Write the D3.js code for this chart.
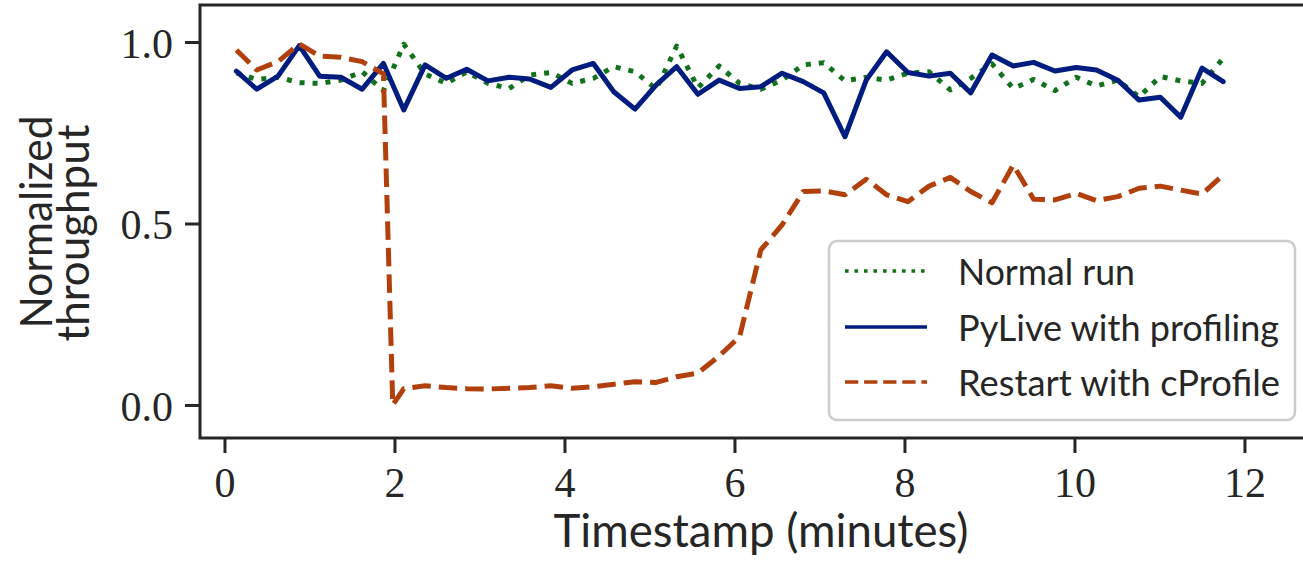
<!DOCTYPE html>
<html>
<head>
<meta charset="utf-8">
<script src="https://cdn.jsdelivr.net/npm/d3@7"></script>
<style>
  body { margin: 0; background: #fff; }
  svg { display: block; }
</style>
</head>
<body>
<svg></svg>
<script>
// sample times (minutes), one every ~15 s
let timestamps = [0.14, 0.38, 0.63, 0.88, 1.12, 1.37, 1.62, 1.87, 2.11, 2.36, 2.61, 2.85,
                  3.10, 3.35, 3.59, 3.84, 4.09, 4.34, 4.58, 4.83, 5.08, 5.32, 5.57, 5.82,
                  6.06, 6.31, 6.56, 6.81, 7.05, 7.30, 7.55, 7.79, 8.04, 8.29, 8.54, 8.78,
                  9.03, 9.28, 9.52, 9.77, 10.02, 10.26, 10.51, 10.76, 11.01, 11.25, 11.50, 11.75];

let normalRun = [0.915, 0.897, 0.903, 0.888, 0.886, 0.895, 0.918, 0.866, 0.994, 0.912, 0.886, 0.918,
                 0.886, 0.872, 0.909, 0.916, 0.886, 0.900, 0.932, 0.918, 0.870, 0.989, 0.874, 0.934,
                 0.886, 0.870, 0.895, 0.937, 0.943, 0.893, 0.903, 0.895, 0.914, 0.918, 0.868, 0.900,
                 0.940, 0.872, 0.897, 0.866, 0.903, 0.879, 0.895, 0.849, 0.905, 0.893, 0.886, 0.955];

let pyliveRun = [0.920, 0.870, 0.906, 0.990, 0.906, 0.903, 0.870, 0.941, 0.813, 0.937, 0.900, 0.925,
                 0.893, 0.903, 0.898, 0.875, 0.923, 0.941, 0.863, 0.815, 0.882, 0.932, 0.856, 0.895,
                 0.872, 0.877, 0.914, 0.891, 0.860, 0.739, 0.895, 0.973, 0.916, 0.906, 0.914, 0.860,
                 0.964, 0.934, 0.944, 0.920, 0.930, 0.923, 0.895, 0.840, 0.848, 0.793, 0.928, 0.891];

// restart run has one extra sample at the moment of the restart
let restartTimes = [0.14, 0.38, 0.63, 0.88, 1.12, 1.37, 1.62, 1.87, 1.98, 2.11, 2.36, 2.61, 2.85,
                    3.10, 3.35, 3.59, 3.84, 4.09, 4.34, 4.58, 4.83, 5.08, 5.32, 5.57, 5.82,
                    6.06, 6.31, 6.56, 6.81, 7.05, 7.30, 7.55, 7.79, 8.04, 8.29, 8.54, 8.78,
                    9.03, 9.28, 9.52, 9.77, 10.02, 10.26, 10.51, 10.76, 11.01, 11.25, 11.50, 11.75];

let restartRun = [0.978, 0.923, 0.946, 0.995, 0.961, 0.958, 0.946, 0.912, 0.0, 0.045, 0.053, 0.048, 0.045,
                  0.044, 0.046, 0.048, 0.053, 0.046, 0.050, 0.057, 0.064, 0.062, 0.078, 0.088, 0.135,
                  0.188, 0.427, 0.496, 0.588, 0.590, 0.579, 0.622, 0.579, 0.560, 0.603, 0.627, 0.588,
                  0.557, 0.661, 0.567, 0.565, 0.583, 0.563, 0.574, 0.597, 0.603, 0.592, 0.581, 0.634];

let xTicks = [0, 2, 4, 6, 8, 10, 12];
let yTicks = [0, 0.5, 1.0];
let seriesNames = ['Normal run', 'PyLive with profiling', 'Restart with cProfile'];
let seriesColors = ['#12711c', '#001c7f', '#b1400d'];
let seriesDash = ['5 8', null, '18.5 8'];

let width = 1303;
let height = 565;
let plotLeft = 200, plotRight = 1315, plotTop = 5, plotBottom = 438;
let textColor = '#262626';
let sans = "Lato, 'Liberation Sans', sans-serif";
let serif = "'Liberation Serif', 'DejaVu Serif', serif";

let svg = d3.select('svg').attr('width', width).attr('height', height);

let xScale = d3.scaleLinear().domain([-0.288, 12.83]).range([plotLeft, plotRight]);
let yScale = d3.scaleLinear().domain([-0.091, 1.102]).range([plotBottom, plotTop]);

svg.append('clipPath').attr('id', 'plot-clip')
   .append('rect').attr('x', plotLeft).attr('y', plotTop)
   .attr('width', plotRight - plotLeft).attr('height', plotBottom - plotTop);

let makeLine = (xs) => d3.line()
  .x((d, i) => xScale(xs[i]))
  .y((d) => yScale(d));

let series = [
  { values: normalRun, times: timestamps },
  { values: pyliveRun, times: timestamps },
  { values: restartRun, times: restartTimes }
];

let plot = svg.append('g').attr('clip-path', 'url(#plot-clip)');
series.forEach((s, k) => {
  plot.append('path')
      .attr('d', makeLine(s.times)(s.values))
      .attr('fill', 'none')
      .attr('stroke', seriesColors[k])
      .attr('stroke-width', 5)
      .attr('stroke-linejoin', 'round')
      .attr('stroke-linecap', seriesDash[k] ? 'butt' : 'round')
      .attr('stroke-dasharray', seriesDash[k]);
});

// axes
let xAxis = d3.axisBottom(xScale).tickValues(xTicks).tickSize(15).tickSizeOuter(0)
              .tickFormat(d3.format('d'));
let yAxis = d3.axisLeft(yScale).tickValues(yTicks).tickSize(15).tickSizeOuter(0)
              .tickFormat(d3.format('.1f'));

let gx = svg.append('g').attr('transform', 'translate(0,' + plotBottom + ')').call(xAxis);
let gy = svg.append('g').attr('transform', 'translate(' + plotLeft + ',0)').call(yAxis);

[gx, gy].forEach((g) => {
  g.select('.domain').remove();
  g.selectAll('.tick line').attr('stroke', textColor).attr('stroke-width', 3);
  g.selectAll('.tick text').attr('fill', textColor)
   .style('font-family', serif).style('font-size', '42px');
});
gx.selectAll('.tick text').attr('y', 59).attr('dy', null);
gy.selectAll('.tick text').attr('x', -27).attr('dy', '0.36em');

// spines
svg.append('rect')
   .attr('x', plotLeft).attr('y', plotTop)
   .attr('width', plotRight - plotLeft).attr('height', plotBottom - plotTop)
   .attr('fill', 'none').attr('stroke', textColor).attr('stroke-width', 3);

// axis labels
svg.append('text')
   .attr('x', 761).attr('y', 547)
   .attr('text-anchor', 'middle')
   .attr('textLength', 415).attr('lengthAdjust', 'spacingAndGlyphs')
   .style('font-family', sans).style('font-size', '46px').attr('fill', textColor)
   .text('Timestamp (minutes)');

let yLabel = [['Normalized', 52, 222, 213], ['throughput', 89, 233, 217]];
yLabel.forEach((l) => {
  svg.append('text')
     .attr('transform', 'translate(' + l[1] + ',' + l[2] + ') rotate(-90)')
     .attr('text-anchor', 'middle')
     .attr('textLength', l[3]).attr('lengthAdjust', 'spacingAndGlyphs')
     .style('font-family', sans).style('font-size', '45px').attr('fill', textColor)
     .text(l[0]);
});

// legend
let legend = svg.append('g');
legend.append('rect')
      .attr('x', 829).attr('y', 241).attr('width', 466).attr('height', 179)
      .attr('rx', 8).attr('ry', 8)
      .attr('fill', '#fff').attr('fill-opacity', 0.8)
      .attr('stroke', '#cccccc').attr('stroke-width', 2.5);

let legendY = [271, 327, 382];
let legendWidths = [177, 321, 322];
seriesNames.forEach((name, k) => {
  legend.append('line')
        .attr('x1', 845).attr('x2', 927)
        .attr('y1', legendY[k]).attr('y2', legendY[k])
        .attr('stroke', seriesColors[k]).attr('stroke-width', 3.6)
        .attr('stroke-dasharray', k === 0 ? '3.6 5.9' : (k === 2 ? '13.3 5.8' : null));
  legend.append('text')
        .attr('x', 958).attr('y', legendY[k] + 14)
        .attr('textLength', legendWidths[k]).attr('lengthAdjust', 'spacingAndGlyphs')
        .style('font-family', sans).style('font-size', '37px').attr('fill', textColor)
        .text(name);
});
</script>
</body>
</html>
